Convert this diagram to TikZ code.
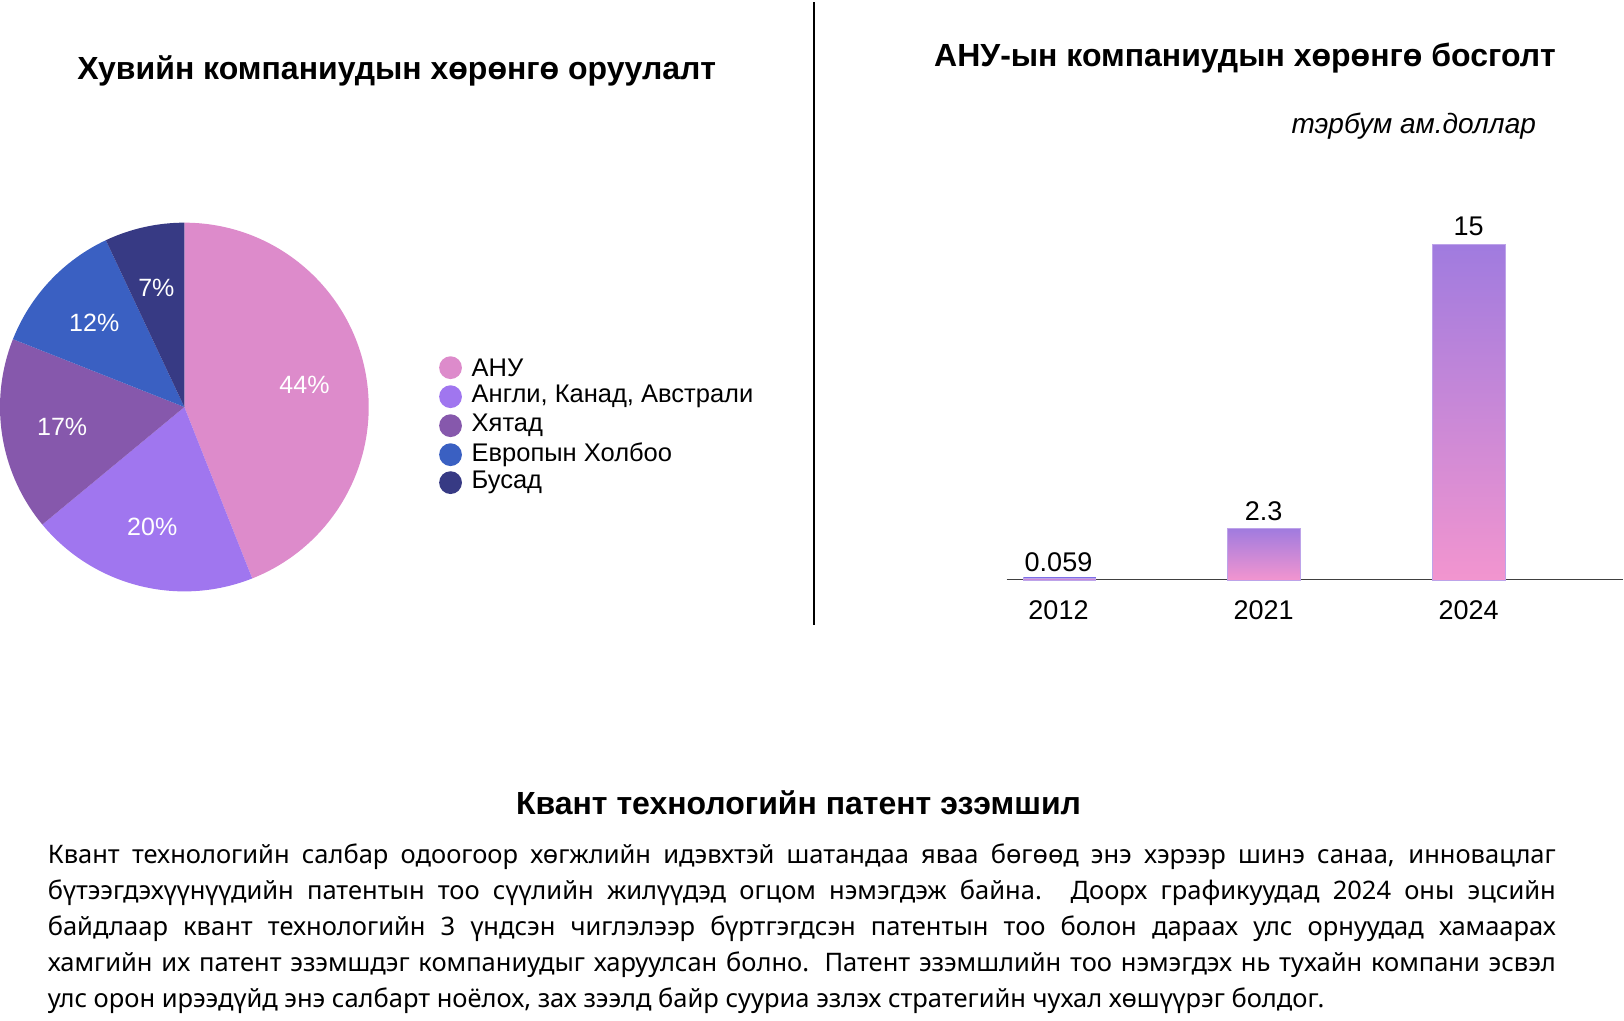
\documentclass[tikz,border=0pt]{standalone}
\usepackage{fontspec}
\usetikzlibrary{calc}
\setmainfont{Liberation Sans}
\newfontfamily\bodyfont{Noto Sans}
\begin{document}
\begin{tikzpicture}[x=1.0357pt,y=1.0357pt]
\definecolor{cA}{HTML}{DD8BCB}
\definecolor{cB}{HTML}{A076EF}
\definecolor{cC}{HTML}{8658AC}
\definecolor{cD}{HTML}{3A60C2}
\definecolor{cE}{HTML}{373A84}
\definecolor{gtop}{HTML}{A07BDF}
\definecolor{gbot}{HTML}{F295CF}
\tikzset{pct/.style={text=white,font=\fontsize{25}{28}\selectfont},
  leg/.style={anchor=west,font=\fontsize{25.5}{28}\selectfont},
  ttl/.style={font=\bfseries\fontsize{32}{36}\selectfont},
  yr/.style={font=\fontsize{27}{30}\selectfont},
  bar/.style={top color=gtop,bottom color=gbot,draw=gtop!70,line width=0.6pt}}
\useasboundingbox (0,35) rectangle (1568,1020);
% titles
\node[ttl] (t1) at (383,952) {Хувийн компаниудын хөрөнгө оруулалт};
\node[ttl] (t2) at (1202,964) {АНУ-ын компаниудын хөрөнгө босголт};
\node[font=\itshape\fontsize{28}{31}\selectfont] (unit) at (1365,898) {тэрбум ам.доллар};
\draw[line width=2pt] (786,1018) -- (786,417);
% pie
\coordinate (c) at (178,627);
\foreach \a/\b/\col in {90/-68.4/cA,-68.4/-140.4/cB,-140.4/-201.6/cC,-201.6/-244.8/cD,-244.8/-270/cE}{
  \fill[\col] (c) -- ($(c)+(\a:178)$) arc[start angle=\a,end angle=\b,radius=178] -- cycle;}
\node[pct] (p1) at (294,648) {44\%};
\node[pct] (p2) at (147,511) {20\%};
\node[pct] (p3) at (60,608) {17\%};
\node[pct] (p4) at (91,708) {12\%};
\node[pct] (p5) at (151,742) {7\%};
% legend
\foreach \y/\col/\t [count=\i] in {665/cA/АНУ,637/cB/{Англи, Канад, Австрали},609/cC/Хятад,581/cD/Европын Холбоо,554/cE/Бусад}{
  \fill[\col] (435,\y) circle (11);
  \node[leg] (l\i) at (452,\y) {\t};}
% bars
\draw[line width=1pt,black!75] (972,460) -- (1567,460);
\fill[bar] (988,460) rectangle (1058,462);
\fill[bar] (1185,460) rectangle (1255,510);
\fill[bar] (1383,460) rectangle (1453,784);
\node[yr] (v1) at (1022,477) {0.059};
\node[yr] (v2) at (1220,526) {2.3};
\node[yr] (v3) at (1418,801) {15};
\node[yr] (y1) at (1022,431) {2012};
\node[yr] (y2) at (1220,431) {2021};
\node[yr] (y3) at (1418,431) {2024};
% bottom text
\node[ttl] (t3) at (771,245) {Квант технологийн патент эзэмшил};
\node[anchor=north west,inner sep=0pt,align=left,font=\bodyfont\fontsize{25.5}{36}\selectfont] (para) at (46,205) {%
\makebox[1508pt][s]{Квант технологийн салбар одоогоор хөгжлийн идэвхтэй шатандаа яваа бөгөөд энэ хэрээр шинэ санаа, инновацлаг}\\
\makebox[1508pt][s]{бүтээгдэхүүнүүдийн патентын тоо сүүлийн жилүүдэд огцом нэмэгдэж байна. Доорх графикуудад 2024 оны эцсийн}\\
\makebox[1508pt][s]{байдлаар квант технологийн 3 үндсэн чиглэлээр бүртгэгдсэн патентын тоо болон дараах улс орнуудад хамаарах}\\
\makebox[1508pt][s]{хамгийн их патент эзэмшдэг компаниудыг харуулсан болно. Патент эзэмшлийн тоо нэмэгдэх нь тухайн компани эсвэл}\\
улс орон ирээдүйд энэ салбарт ноёлох, зах зээлд байр сууриа эзлэх стратегийн чухал хөшүүрэг болдог.};
\end{tikzpicture}
\end{document}
